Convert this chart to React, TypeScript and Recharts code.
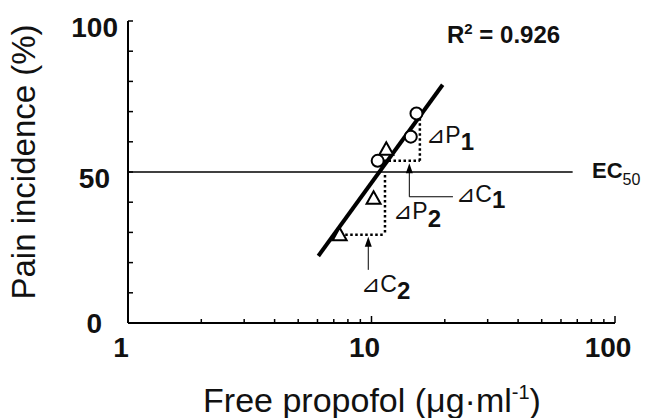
import React from 'react';
import { ComposedChart, XAxis, YAxis, Scatter, ReferenceLine } from 'recharts';

const X_TICKS = [1, 2, 3, 4, 5, 6, 7, 8, 9, 10, 20, 30, 40, 50, 60, 70, 80, 90, 100];
const X_LABELS = [1, 10, 100];
const Y_TICKS = [0, 10, 20, 30, 40, 50, 60, 70, 80, 90, 100];

const circlePoints = [
  { x: 15.3, y: 69.4 },
  { x: 14.5, y: 61.7 },
  { x: 10.6, y: 53.7 },
];
const trianglePoints = [
  { x: 11.5, y: 57.5 },
  { x: 10.2, y: 41.3 },
  { x: 7.4, y: 29.2 },
];
const fitLine = [
  { x: 6.05, y: 22.2 },
  { x: 19.6, y: 78.9 },
];
const ec50Line = [
  { x: 1, y: 50 },
  { x: 67, y: 50 },
];
const dottedSegments = [
  [{ x: 15.8, y: 67.8 }, { x: 15.8, y: 53.7 }],
  [{ x: 11.2, y: 53.7 }, { x: 15.8, y: 53.7 }],
  [{ x: 11.36, y: 49 }, { x: 11.36, y: 29.2 }],
  [{ x: 7.8, y: 29.2 }, { x: 11.36, y: 29.2 }],
];
const arrowSegments = [
  [{ x: 14.3, y: 41.8 }, { x: 14.3, y: 51 }],
  [{ x: 14.3, y: 41.8 }, { x: 21.6, y: 41.8 }],
  [{ x: 9.7, y: 17.6 }, { x: 9.7, y: 27 }],
];
const arrowTips = [
  { x: 14.3, y: 52.9 },
  { x: 9.7, y: 28.6 },
];

const FONT = '"Liberation Sans", Arial, "DejaVu Sans", sans-serif';

// label offsets for y tick labels (the original places them by hand)
const Y_LABEL_POS: Record<number, [number, number]> = {
  0: [-26, 10],
  50: [-18, 16],
  100: [-10, 16],
};

function XTick(props: any) {
  const { x, y, payload } = props;
  const major = X_LABELS.includes(payload.value);
  return (
    <g>
      {payload.value !== 1 && (
        <line x1={x} x2={x} y1={y} y2={y - (major ? 7 : 4)} stroke="#000" strokeWidth={1.5} />
      )}
      {major && (
        <text x={x - 7} y={y + 34} textAnchor="middle" fontFamily={FONT} fontWeight="bold" fontSize={28} fill="#111">
          {payload.value}
        </text>
      )}
    </g>
  );
}

function YTick(props: any) {
  const { x, y, payload } = props;
  const pos = Y_LABEL_POS[payload.value];
  return (
    <g>
      {payload.value !== 0 && (
        <line x1={x} x2={x + 5} y1={y} y2={y} stroke="#000" strokeWidth={1.5} />
      )}
      {pos && (
        <text x={x + pos[0]} y={y + pos[1]} textAnchor="end" fontFamily={FONT} fontWeight="bold" fontSize={28} fill="#111">
          {payload.value}
        </text>
      )}
    </g>
  );
}

const CircleMark = (p: any) => (
  <circle cx={p.cx} cy={p.cy} r={6} fill="#fff" stroke="#000" strokeWidth={2} />
);

const TriangleMark = (p: any) => (
  <polygon
    points={`${p.cx},${p.cy - 7} ${p.cx - 7},${p.cy + 5.5} ${p.cx + 7},${p.cy + 5.5}`}
    fill="#fff"
    stroke="#000"
    strokeWidth={2}
  />
);

const ArrowHead = (p: any) => (
  <polygon points={`${p.cx},${p.cy} ${p.cx - 3.5},${p.cy + 10} ${p.cx + 3.5},${p.cy + 10}`} fill="#000" />
);

const NoMark = () => <g />;

export default function App() {
  return (
    <div style={{ position: 'absolute', left: 0, top: 0, width: 651, height: 418, background: '#fff' }}>
      <ComposedChart width={651} height={418} margin={{ top: 21, right: 36, bottom: 0, left: 0 }}>
        <XAxis
          type="number"
          dataKey="x"
          scale="log"
          domain={[1, 100]}
          ticks={X_TICKS}
          interval={0}
          height={95}
          tickSize={0}
          tickMargin={0}
          tickLine={false}
          tick={<XTick />}
          axisLine={{ stroke: '#000', strokeWidth: 2 }}
          allowDataOverflow
        />
        <YAxis
          type="number"
          dataKey="y"
          domain={[0, 100]}
          ticks={Y_TICKS}
          interval={0}
          width={128}
          tickSize={0}
          tickMargin={0}
          tickLine={false}
          tick={<YTick />}
          axisLine={{ stroke: '#000', strokeWidth: 2 }}
        />
        <ReferenceLine segment={ec50Line} stroke="#000" strokeWidth={1.5} />
        {dottedSegments.map((s, i) => (
          <ReferenceLine key={'d' + i} segment={s} stroke="#000" strokeWidth={2.5} strokeDasharray="2.5 2.5" />
        ))}
        {arrowSegments.map((s, i) => (
          <ReferenceLine key={'a' + i} segment={s} stroke="#000" strokeWidth={1} />
        ))}
        <Scatter data={fitLine} line={{ stroke: '#000', strokeWidth: 4 }} shape={NoMark} isAnimationActive={false} />
        <Scatter data={arrowTips} shape={ArrowHead} isAnimationActive={false} />
        <Scatter data={trianglePoints} shape={TriangleMark} isAnimationActive={false} />
        <Scatter data={circlePoints} shape={CircleMark} isAnimationActive={false} />
      </ComposedChart>
      <svg width={651} height={418} style={{ position: 'absolute', left: 0, top: 0, pointerEvents: 'none' }}>
        <g fontFamily={FONT} fill="#111">
          <text x={447} y={43} fontSize={24} fontWeight="bold">
            R<tspan fontSize={15} dy={-9}>2</tspan>
            <tspan dy={9}> = 0.926</tspan>
          </text>
          <text x={592} y={178} fontSize={22} fontWeight="bold">
            EC<tspan fontSize={16} fontWeight="normal" dy={7}>50</tspan>
          </text>
          <text x={426} y={143} fontSize={23}>
            ⊿P<tspan fontSize={24} fontWeight="bold" dy={7}>1</tspan>
          </text>
          <text x={393} y={219} fontSize={23}>
            ⊿P<tspan fontSize={24} fontWeight="bold" dy={8}>2</tspan>
          </text>
          <text x={456} y={202} fontSize={23}>
            ⊿C<tspan fontSize={24} fontWeight="bold" dy={6}>1</tspan>
          </text>
          <text x={361} y={292} fontSize={23}>
            ⊿C<tspan fontSize={24} fontWeight="bold" dy={7}>2</tspan>
          </text>
          <text x={0} y={0} transform="translate(35,162) rotate(-90)" textAnchor="middle" fontSize={33}>
            Pain incidence (%)
          </text>
          <text x={372} y={412} textAnchor="middle" fontSize={34}>
            Free propofol (μg·ml<tspan fontSize={20} dy={-13}>-1</tspan>
            <tspan dy={13}>)</tspan>
          </text>
        </g>
      </svg>
    </div>
  );
}
